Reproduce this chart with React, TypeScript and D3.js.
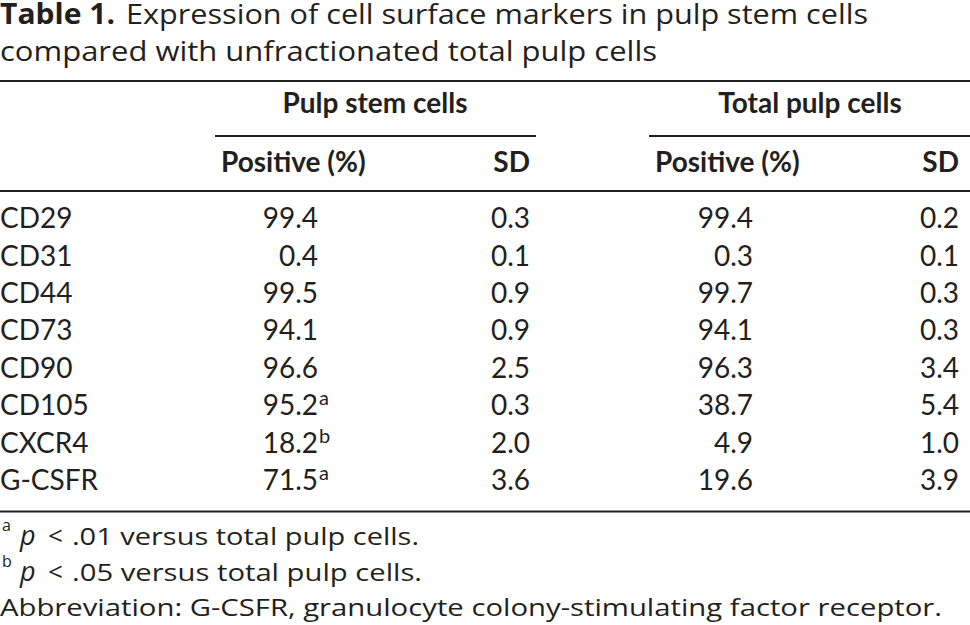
import React from "react";
import * as d3 from "d3";

const markers = ["CD29", "CD31", "CD44", "CD73", "CD90", "CD105", "CXCR4", "G-CSFR"];
const stemPositive = [99.4, 0.4, 99.5, 94.1, 96.6, 95.2, 18.2, 71.5];
const stemMarks = ["", "", "", "", "", "a", "b", "a"];
const stemSD = [0.3, 0.1, 0.9, 0.9, 2.5, 0.3, 2.0, 3.6];
const totalPositive = [99.4, 0.3, 99.7, 94.1, 96.3, 38.7, 4.9, 19.6];
const totalSD = [0.2, 0.1, 0.3, 0.3, 3.4, 5.4, 1.0, 3.9];

const titleBold = "Table 1.";
const titleLine1 = "Expression of cell surface markers in pulp stem cells";
const titleLine2 = "compared with unfractionated total pulp cells";
const groupHeaders = ["Pulp stem cells", "Total pulp cells"];
const colHeaders = ["Positive (%)", "SD"];
const footnoteMarks = ["a", "b"];
const footnoteTexts = [".01 versus total pulp cells.", ".05 versus total pulp cells."];
const abbreviation = "Abbreviation: G-CSFR, granulocyte colony-stimulating factor receptor.";

const W = 970;
const H = 625;
const BODY_FONT = "Lato, 'Open Sans', sans-serif";
const NOTE_FONT = "'Open Sans', Lato, sans-serif";
const COLOR = "#231f20";

export default function App() {
  const fmt = d3.format(".1f");
  const y = d3.scalePoint<string>().domain(markers).range([228.3, 490]);

  const groups = [
    { x0: 215, x1: 536, headerX: 375, posLeft: 221, posRight: 318, sdRight: 530, pos: stemPositive, sd: stemSD, marks: stemMarks },
    { x0: 649, x1: 970, headerX: 810, posLeft: 655, posRight: 753, sdRight: 959, pos: totalPositive, sd: totalSD, marks: markers.map(() => "") },
  ];

  const bodySize = 28;
  const footEnds = [419, 422];

  return (
    <svg width={W} height={H} style={{ position: "absolute", left: 0, top: 0, background: "#fff" }} fill={COLOR}>
      <rect x={0} y={0} width={W} height={H} fill="#fff" />
      <g fontFamily={NOTE_FONT} fontSize={28}>
        <text x={0} y={24} fontWeight="bold" textLength={115} lengthAdjust="spacingAndGlyphs">{titleBold}</text>
        <text x={126} y={24} textLength={742} lengthAdjust="spacingAndGlyphs">{titleLine1}</text>
        <text x={0} y={61} textLength={657} lengthAdjust="spacingAndGlyphs">{titleLine2}</text>
      </g>

      <line x1={0} x2={W} y1={81} y2={81} stroke={COLOR} strokeWidth={2} />
      <g fontFamily={BODY_FONT}>
        {groups.map((g, gi) => (
          <g key={gi}>
            <text x={g.headerX} y={113} fontSize={bodySize} fontWeight="bold" textAnchor="middle">
              {groupHeaders[gi]}
            </text>
            <line x1={g.x0} x2={g.x1} y1={136} y2={136} stroke={COLOR} strokeWidth={2} />
            <text x={g.posLeft} y={172} fontSize={bodySize} fontWeight="bold">{colHeaders[0]}</text>
            <text x={g.sdRight} y={172} fontSize={bodySize} fontWeight="bold" textAnchor="end">{colHeaders[1]}</text>
            {markers.map((m, i) => (
              <g key={m}>
                <text x={g.posRight} y={y(m)} fontSize={bodySize} textAnchor="end">{fmt(g.pos[i])}</text>
                {g.marks[i] && (
                  <text x={g.posRight + 1} y={(y(m) as number) - 10} fontSize={20}>{g.marks[i]}</text>
                )}
                <text x={g.sdRight} y={y(m)} fontSize={bodySize} textAnchor="end">{fmt(g.sd[i])}</text>
              </g>
            ))}
          </g>
        ))}
        {markers.map((m) => (
          <text key={m} x={0} y={y(m)} fontSize={bodySize}>{m}</text>
        ))}
      </g>
      <line x1={0} x2={W} y1={191} y2={191} stroke={COLOR} strokeWidth={2} />
      <line x1={0} x2={W} y1={511.5} y2={511.5} stroke={COLOR} strokeWidth={2} />

      <g fontFamily={NOTE_FONT} fontSize={24}>
        {footnoteMarks.map((mk, i) => {
          const by = 545 + i * 35.5;
          return (
            <g key={mk}>
              <text x={2} y={by - 14} fontSize={16}>{mk}</text>
              <text x={20} y={by} fontSize={27} fontStyle="italic">p</text>
              <text x={48} y={by} fontSize={26}>{"<"}</text>
              <text x={72} y={by} textLength={footEnds[i] - 72} lengthAdjust="spacingAndGlyphs">{footnoteTexts[i]}</text>
            </g>
          );
        })}
        <text x={0} y={616} textLength={942} lengthAdjust="spacingAndGlyphs">{abbreviation}</text>
      </g>
    </svg>
  );
}
